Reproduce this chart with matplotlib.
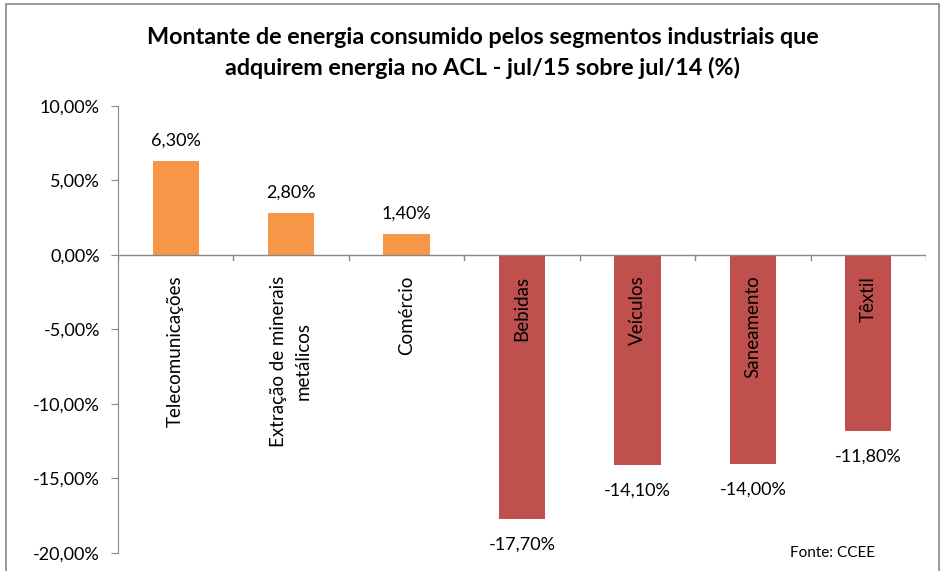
import matplotlib.pyplot as plt
import matplotlib.patches as mpatches
from matplotlib.ticker import FuncFormatter

categorias = ['Telecomunicações', 'Extração de minerais\nmetálicos', 'Comércio',
              'Bebidas', 'Veículos', 'Saneamento', 'Têxtil']
valores = [6.30, 2.80, 1.40, -17.70, -14.10, -14.00, -11.80]

plt.rcParams['font.family'] = ['Lato', 'DejaVu Sans']

fig = plt.figure(figsize=(9.43, 5.71), dpi=100)
ax = fig.add_axes([118 / 943, 1 - 553 / 571, (926 - 118) / 943, (553 - 105.7) / 571])

cores = ['#F79646' if v >= 0 else '#C0504D' for v in valores]
x = list(range(len(valores)))
ax.bar(x, valores, width=0.4, color=cores, zorder=2)

ax.set_xlim(-0.5, len(valores) - 0.5)
ax.set_ylim(-20, 10)
ax.set_yticks([10, 5, 0, -5, -10, -15, -20])
ax.yaxis.set_major_formatter(FuncFormatter(lambda v, p: f'{v:.2f}%'.replace('.', ',')))
ax.tick_params(axis='y', length=5, color='#888888', labelsize=13, pad=8)
ax.set_xticks([])

for s in ['top', 'right', 'bottom']:
    ax.spines[s].set_visible(False)
ax.spines['left'].set_color('#888888')

# linha do zero com marcas entre categorias
ax.axhline(0, color='#888888', lw=1, zorder=3)
for i in range(len(valores) + 1):
    ax.plot([i - 0.5, i - 0.5], [0, -0.35], color='#888888', lw=1, zorder=3)

for i, (v, nome) in enumerate(zip(valores, categorias)):
    rot = f'{v:.2f}%'.replace('.', ',')
    if v >= 0:
        ax.annotate(rot, (i, v), xytext=(0, 9), textcoords='offset points',
                    ha='center', va='bottom', fontsize=13)
    else:
        ax.annotate(rot, (i, v), xytext=(0, -13), textcoords='offset points',
                    ha='center', va='top', fontsize=13)
    ax.annotate(nome, (i, 0), xytext=(0, -15), textcoords='offset points',
                ha='center', va='top', rotation=90, fontsize=13.5,
                multialignment='center', linespacing=1.55, zorder=4)

fig.text(0.512, 1 - 38 / 571, 'Montante de energia consumido pelos segmentos industriais que',
         ha='center', va='center', fontsize=16.8, fontweight='bold')
fig.text(0.512, 1 - 68 / 571, 'adquirem energia no ACL - jul/15 sobre jul/14 (%)',
         ha='center', va='center', fontsize=16.8, fontweight='bold')
fig.text(833 / 943, 1 - 553 / 571, 'Fonte: CCEE', ha='center', va='center', fontsize=11)

borda = mpatches.Rectangle((6 / 943, -0.05), 933 / 943, 1 - 4 / 571 + 0.05,
                           transform=fig.transFigure, fill=False,
                           edgecolor='#888888', lw=1.2)
fig.patches.append(borda)

fig.savefig('out.png', dpi=100)
